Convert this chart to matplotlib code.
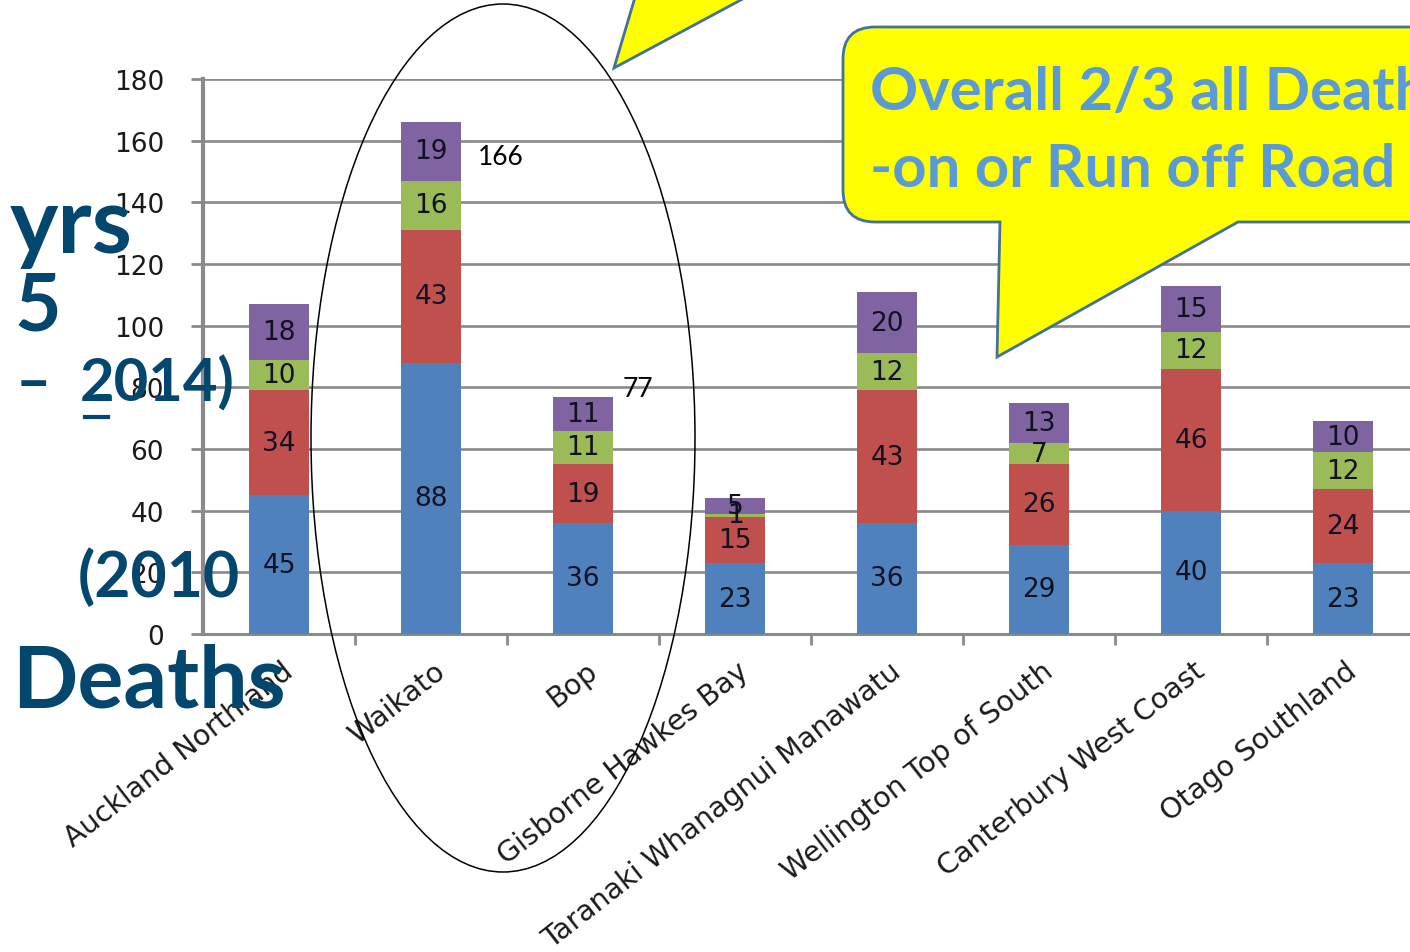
import matplotlib
matplotlib.use('Agg')
import matplotlib.pyplot as plt
import matplotlib.transforms as mtransforms
from matplotlib.patches import Ellipse, PathPatch, Polygon
from matplotlib.path import Path
import numpy as np

# Regions (categories)
regions = ['Auckland Northland', 'Waikato', 'Bop', 'Gisborne Hawkes Bay',
           'Taranaki Whanagnui Manawatu', 'Wellington Top of South',
           'Canterbury West Coast', 'Otago Southland']

# Deaths per crash type, stacked bottom to top
blue_vals = [45, 88, 36, 23, 36, 29, 40, 23]
red_vals = [34, 43, 19, 15, 43, 26, 46, 24]
green_vals = [10, 16, 11, 1, 12, 7, 12, 12]
purple_vals = [18, 19, 11, 5, 20, 13, 15, 10]

# Totals written next to the circled bars
total_idx = [1, 2]
total_pos = [(1.31, 155), (2.26, 79.5)]

colors = ['#4F81BD', '#C0504D', '#9BBB59', '#8064A2']
teal = '#03466E'
grid_gray = '#8a8a8a'

W, H = 1410, 953
fig = plt.figure(figsize=(W / 100, H / 100), dpi=100)
fig.patch.set_facecolor('white')

# main chart area
ax = fig.add_axes([203 / W, (H - 635) / H, (1419 - 203) / W, 555 / H])
x = np.arange(len(regions))
series = [blue_vals, red_vals, green_vals, purple_vals]
bottom = np.zeros(len(regions))
for vals, c in zip(series, colors):
    vals = np.array(vals)
    ax.bar(x, vals, 0.4, bottom=bottom, color=c, zorder=3)
    for i, v in enumerate(vals):
        ax.text(x[i], bottom[i] + v / 2, str(v), ha='center', va='center',
                fontsize=19, color='#111122', zorder=4)
    bottom = bottom + vals

totals = bottom.astype(int)
for i, (tx, ty) in zip(total_idx, total_pos):
    ax.text(tx, ty, str(totals[i]), ha='left', va='center', fontsize=19,
            family='Lato', color='black', zorder=4)

ax.set_xlim(-0.5, len(regions) - 0.5)
ax.set_ylim(0, 180)
ax.set_yticks(np.arange(0, 181, 20))
ax.yaxis.grid(True, color=grid_gray, linewidth=1.9, zorder=0)
ax.set_axisbelow(True)
for s in ['top', 'right']:
    ax.spines[s].set_visible(False)
ax.spines['left'].set_color(grid_gray)
ax.spines['left'].set_linewidth(3)
ax.spines['bottom'].set_color(grid_gray)
ax.spines['bottom'].set_linewidth(2.2)
ax.tick_params(axis='y', length=9, width=2, color=grid_gray, pad=19,
               labelsize=19, labelcolor='#1a1a1a')
ax.set_xticks(x)
ax.set_xticks(x[:-1] + 0.5, minor=True)
ax.tick_params(axis='x', which='major', length=0, pad=16, labelsize=20.5,
               labelcolor='#1a1a1a')
ax.tick_params(axis='x', which='minor', length=8, width=2, color=grid_gray)
ax.set_xticklabels(regions, rotation=38, ha='right', va='top',
                   rotation_mode='anchor')
offset = mtransforms.ScaledTranslation(2 / 100, 0, fig.dpi_scale_trans)
for lab in ax.get_xticklabels():
    lab.set_transform(lab.get_transform() + offset)

# overlay in pixel coordinates for the slide decorations
ov = fig.add_axes([0, 0, 1, 1], zorder=10)
ov.set_xlim(0, W)
ov.set_ylim(H, 0)
ov.axis('off')
ov.patch.set_alpha(0)

ov.add_patch(Ellipse((503, 439), 384, 868, fill=False, edgecolor='black',
                     linewidth=1.1))

# small callout pointer at the top
ov.add_patch(Polygon([(614, 69), (636, -5), (752, -5)], closed=True,
                     facecolor='#FFFF00', edgecolor='#41719C', linewidth=2))

# big callout
r = 32
verts = [(1500, 28), (843 + r, 28), (843, 28), (843, 28 + r),
         (843, 223 - r), (843, 223), (843 + r, 223),
         (1000, 223), (997, 358), (1238, 223), (1500, 223), (1500, 28)]
codes = [Path.MOVETO, Path.LINETO, Path.CURVE3, Path.CURVE3,
         Path.LINETO, Path.CURVE3, Path.CURVE3,
         Path.LINETO, Path.LINETO, Path.LINETO, Path.LINETO, Path.CLOSEPOLY]
ov.add_patch(PathPatch(Path(verts, codes), facecolor='#FFFF00',
                       edgecolor='#41719C', linewidth=2))
ov.text(870, 110, 'Overall 2/3 all Deaths', family='Lato', weight='bold',
        fontsize=43, color='#5B9BD5', va='baseline', ha='left')
ov.text(870, 187, '-on or Run off Road crashes', family='Lato', weight='bold',
        fontsize=43, color='#5B9BD5', va='baseline', ha='left')

# slide title fragments on the left
big = dict(family='Lato', weight='bold', color=teal, va='baseline', ha='left')
ov.text(10, 253, 'yrs', fontsize=66, **big)
ov.text(14, 331, '5', fontsize=58, **big)
ov.text(16, 402, '\u2013', fontsize=44, **big)
ov.text(80, 402, '2014)', fontsize=43, **big)
ov.plot([85, 108], [418, 418], color=teal, linewidth=3)
ov.text(78, 597, '(2010', fontsize=45, **big)
ov.text(12, 708, 'Deaths', fontsize=62, **big)

fig.savefig('out.png', dpi=100)
